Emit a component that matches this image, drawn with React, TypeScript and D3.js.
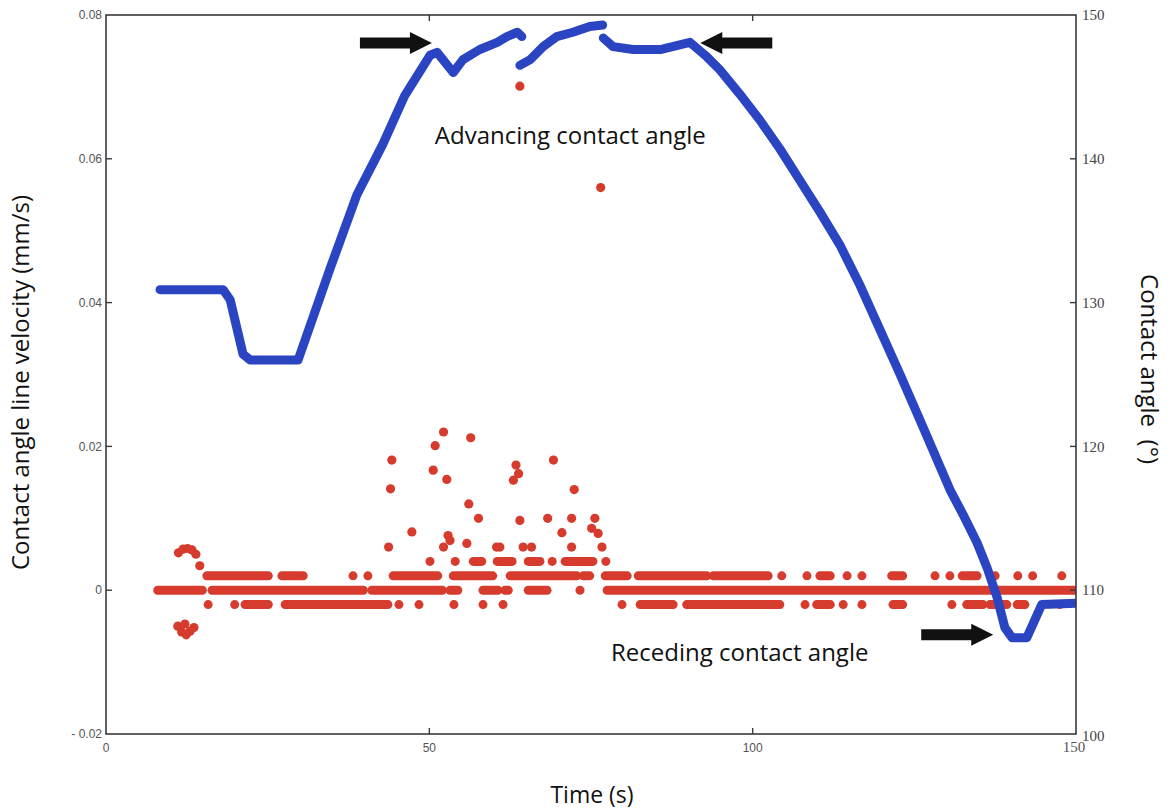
import React from 'react';
import * as d3 from 'd3';

const timeTicks = [0, 50, 100, 150];
const velocityTicks = [-0.02, 0, 0.02, 0.04, 0.06, 0.08];
const velocityTickLabels = ['- 0.02', '0', '0.02', '0.04', '0.06', '0.08'];
const angleTicks = [100, 110, 120, 130, 140, 150];

// contact angle (deg) vs time (s) - recorded in three pieces
const angleSeg1 = [
  [8.35, 130.9], [18.1, 130.9], [19.2, 130.2], [21.2, 126.4], [22.3, 126.0], [29.7, 126.0],
  [34.6, 132.3], [38.8, 137.5], [42.8, 141.0], [46.2, 144.4], [50.1, 147.2], [51.2, 147.4],
  [53.7, 146.0], [55.2, 146.9], [57.8, 147.6], [60.5, 148.1], [62.0, 148.5], [63.6, 148.8], [64.3, 148.5],
];
const angleSeg2 = [
  [64.0, 146.5], [65.6, 146.9], [67.6, 147.8], [69.7, 148.5], [72.2, 148.8], [74.8, 149.2], [76.8, 149.3],
];
const angleSeg3 = [
  [76.9, 148.4], [78.4, 147.8], [81.5, 147.6], [85.7, 147.6], [90.3, 148.1], [92.9, 147.1],
  [94.9, 146.2], [98.0, 144.5], [101.1, 142.7], [104.2, 140.7], [107.3, 138.5], [110.4, 136.3],
  [113.5, 134.0], [116.6, 131.2], [119.7, 128.1], [122.8, 125.0], [125.9, 121.8], [128.2, 119.4],
  [130.5, 117.0], [132.6, 115.2], [134.7, 113.3], [136.3, 111.5], [137.8, 109.5], [139.0, 107.4],
  [140.1, 106.7], [142.4, 106.7], [143.6, 107.9], [144.7, 109.0], [150, 109.1],
];

// velocity samples that sit on the quantised levels, as [tStart, tEnd] runs
const velLevels = [0, 0.002, -0.002, 0.004];
const velRuns0 = [[8.0, 14.9], [16.4, 39.8], [41.1, 52.0], [53.2, 54.4], [58.3, 60.6], [61.7, 62.2], [65.3, 68.2], [73.3, 73.3], [77.5, 150]];
const velRunsPlus = [
  [15.6, 25.1], [27.2, 30.5], [38.2, 38.2], [40.5, 40.5], [44.4, 51.3], [53.7, 59.8], [62.5, 72.8], [73.8, 74.8],
  [77.2, 80.6], [82.3, 92.9], [93.9, 102.4], [104.5, 104.5], [108.4, 108.4], [110.4, 112.0], [114.6, 114.6],
  [116.9, 116.9], [121.5, 123.2], [128.2, 128.2], [130.5, 130.5], [132.4, 134.7], [137.5, 137.5], [141.0, 141.0],
  [143.3, 143.3], [147.8, 147.8],
];
const velRunsMinus = [
  [15.8, 15.8], [19.9, 19.9], [21.5, 25.1], [27.7, 43.6], [45.3, 45.3], [48.4, 48.4], [53.8, 53.8], [58.3, 58.3],
  [61.4, 61.4], [79.8, 79.8], [82.6, 87.7], [89.8, 104.2], [108.1, 108.1], [109.9, 112.0], [114.0, 114.0],
  [116.9, 116.9], [121.7, 123.2], [130.8, 130.8], [133.1, 135.6], [136.7, 139.3], [140.9, 142.1], [147.5, 147.5],
];
const velRunsPlus2 = [[50.1, 50.1], [54.0, 54.0], [56.8, 58.1], [60.5, 62.8], [65.3, 67.1], [69.0, 69.0], [71.0, 75.3], [77.3, 77.3]];

// scattered velocity points [t, v]
const velScatter = [
  [44.2, 0.0181], [44.0, 0.0141], [47.3, 0.0081], [43.7, 0.006], [52.2, 0.022], [50.9, 0.0201], [50.6, 0.0167],
  [52.7, 0.0154], [56.4, 0.0212], [56.1, 0.012], [57.6, 0.01], [52.9, 0.0076], [53.2, 0.0069], [52.2, 0.006],
  [55.8, 0.0065], [63.4, 0.0174], [63.8, 0.0162], [63.0, 0.0153], [64.0, 0.0097], [69.2, 0.0181], [72.4, 0.014],
  [68.3, 0.01], [72.0, 0.01], [75.6, 0.01], [70.5, 0.008], [75.1, 0.0086], [76.1, 0.0079], [76.7, 0.006],
  [60.4, 0.006], [60.9, 0.006], [64.5, 0.006], [65.8, 0.006], [72.0, 0.006], [64.0, 0.0701], [76.5, 0.056],
  [11.2, 0.0052], [11.9, 0.0057], [12.6, 0.0058], [13.3, 0.0056], [13.9, 0.005], [14.5, 0.0034],
  [11.1, -0.005], [11.7, -0.0058], [12.4, -0.0062], [13.0, -0.0057], [13.6, -0.0052], [12.2, -0.0047],
];

// annotations: arrow tips in (t, angle), direction +1 = pointing right
const arrows = [
  { t: 50.4, a: 148.05, dir: 1 },
  { t: 91.9, a: 148.05, dir: -1 },
  { t: 137.2, a: 106.9, dir: 1 },
];
const notes = [
  { text: 'Advancing contact angle', t: 71.8, a: 141.0 },
  { text: 'Receding contact angle', t: 98.0, a: 105.1 },
];

const W = 1173;
const H = 809;
const left = 106, right = 1076, top = 15, bottom = 734;

const BLUE = '#2a44c2';
const RED = '#d63b2d';
const TITLE_FONT = 'Open Sans, sans-serif';

export default function App() {
  const x = d3.scaleLinear().domain([0, 150]).range([left, right]);
  const yV = d3.scaleLinear().domain([-0.02, 0.08]).range([bottom, top]);
  const yA = d3.scaleLinear().domain([100, 150]).range([bottom, top]);

  const line = d3.line<number[]>()
    .x(d => x(d[0]))
    .y(d => yA(d[1]));

  const runSets = [velRuns0, velRunsPlus, velRunsMinus, velRunsPlus2];

  return (
    <svg width={W} height={H} style={{ position: 'absolute', left: 0, top: 0, background: '#fff' }}>
      <defs>
        <clipPath id="plot">
          <rect x={left} y={top - 6} width={right - left} height={bottom - top + 6} />
        </clipPath>
      </defs>

      <g clipPath="url(#plot)">
        {runSets.map((runs, i) =>
          runs.map((r, j) => (
            <line key={`r${i}-${j}`} x1={x(r[0])} x2={x(r[1])} y1={yV(velLevels[i])} y2={yV(velLevels[i])}
              stroke={RED} strokeWidth={9} strokeLinecap="round" />
          ))
        )}
        {velScatter.map((d, i) => (
          <circle key={`s${i}`} cx={x(d[0])} cy={yV(d[1])} r={4.6} fill={RED} />
        ))}
        {[angleSeg1, angleSeg2, angleSeg3].map((seg, i) => (
          <path key={`b${i}`} d={line(seg) || ''} fill="none" stroke={BLUE} strokeWidth={9}
            strokeLinejoin="round" strokeLinecap="round" />
        ))}
      </g>

      {/* frame */}
      <rect x={left} y={top} width={right - left} height={bottom - top} fill="none" stroke="#3a3a3a" strokeWidth={1.6} />

      {/* left axis */}
      {velocityTicks.map((v, i) => (
        <g key={`lv${i}`}>
          {i > 0 && i < velocityTicks.length - 1 && (
            <line x1={left} x2={left + 6} y1={yV(v)} y2={yV(v)} stroke="#3a3a3a" strokeWidth={1.4} />
          )}
          <text x={left - 4} y={yV(v)} dy="0.35em" textAnchor="end" fontFamily="Liberation Sans, Arial, sans-serif"
            fontSize={12} fill="#555">{velocityTickLabels[i]}</text>
        </g>
      ))}

      {/* right axis */}
      {angleTicks.map((a, i) => (
        <g key={`ra${i}`}>
          {i > 0 && i < angleTicks.length - 1 && (
            <line x1={right - 6} x2={right} y1={yA(a)} y2={yA(a)} stroke="#3a3a3a" strokeWidth={1.4} />
          )}
          <text x={right + 6} y={yA(a) + (i === 0 ? 2 : 0)} dy="0.35em" fontFamily="Liberation Serif, Times New Roman, serif"
            fontSize={15} fill="#444">{a}</text>
        </g>
      ))}

      {/* time axis */}
      {timeTicks.map((t, i) => (
        <g key={`tx${i}`}>
          {i > 0 && i < timeTicks.length - 1 && (
            <>
              <line x1={x(t)} x2={x(t)} y1={top} y2={top + 6} stroke="#3a3a3a" strokeWidth={1.4} />
              <line x1={x(t)} x2={x(t)} y1={bottom - 6} y2={bottom} stroke="#3a3a3a" strokeWidth={1.4} />
            </>
          )}
          <text x={x(t) + (i === timeTicks.length - 1 ? -2 : 0)} y={bottom + 18} textAnchor="middle"
            fontFamily={i === timeTicks.length - 1 ? 'Liberation Serif, serif' : 'Liberation Sans, Arial, sans-serif'}
            fontSize={i === timeTicks.length - 1 ? 15 : 12} fill="#555">{t}</text>
        </g>
      ))}

      {/* arrows */}
      {arrows.map((ar, i) => {
        const tx = x(ar.t), ty = yA(ar.a), d = ar.dir;
        const pts = [
          [tx, ty], [tx - d * 22, ty - 11], [tx - d * 22, ty - 5.5], [tx - d * 72, ty - 5.5],
          [tx - d * 72, ty + 5.5], [tx - d * 22, ty + 5.5], [tx - d * 22, ty + 11],
        ];
        return <polygon key={`ar${i}`} points={pts.map(p => p.join(',')).join(' ')} fill="#111" />;
      })}

      {notes.map((n, i) => (
        <text key={`n${i}`} x={x(n.t)} y={yA(n.a)} textAnchor="middle" fontFamily={TITLE_FONT}
          fontSize={24} fill="#111">{n.text}</text>
      ))}

      {/* axis titles */}
      <text transform={`translate(29, ${(top + bottom) / 2 + 8}) rotate(-90)`} textAnchor="middle"
        fontFamily={TITLE_FONT} fontSize={24} fill="#111">Contact angle line velocity (mm/s)</text>
      <text transform={`translate(1141, 369) rotate(90)`} textAnchor="middle"
        fontFamily={TITLE_FONT} fontSize={24} fill="#111">{'Contact angle\u00a0\u00a0(°)'}</text>
      <text x={592} y={803} textAnchor="middle" fontFamily={TITLE_FONT} fontSize={23} fill="#111">Time (s)</text>
    </svg>
  );
}
